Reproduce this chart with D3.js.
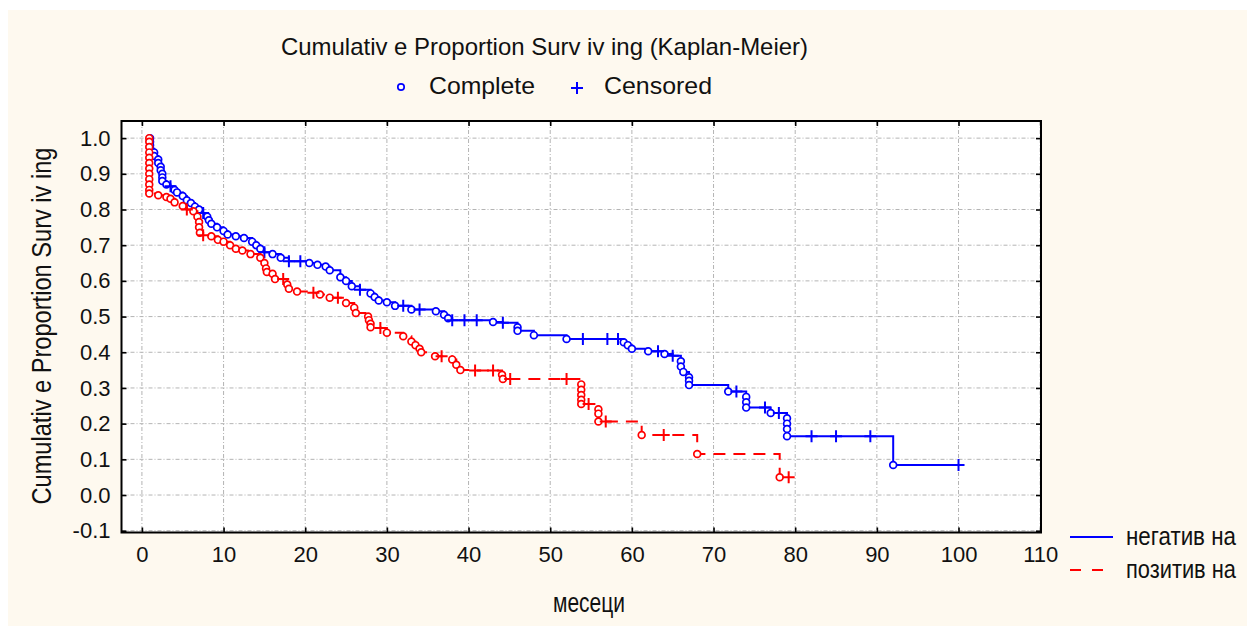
<!DOCTYPE html>
<html>
<head>
<meta charset="utf-8">
<script src="https://cdn.jsdelivr.net/npm/d3@7"></script>
<style>
  body { margin: 0; background: #fff; }
  svg { display: block; font-family: "Liberation Sans", Arial, sans-serif; }
</style>
</head>
<body>
<svg id="chart" width="1247" height="626"></svg>
<script>
// --- chart data ---
const xTicks = [0, 10, 20, 30, 40, 50, 60, 70, 80, 90, 100, 110];
const yTicks = [-0.1, 0.0, 0.1, 0.2, 0.3, 0.4, 0.5, 0.6, 0.7, 0.8, 0.9, 1.0];
const groupNames = ["негатив на", "позитив на"];
const markerLabels = ["Complete", "Censored"];

// [month, cumulative proportion surviving, censored? 1 : 0]
const negativeKM = [
  [1, 1.0, 0], [1, 0.99, 0], [1, 0.98, 0], [1, 0.97, 0], [1.5, 0.96, 0], [1.5, 0.95, 0],
  [2, 0.94, 0], [2, 0.93, 0], [2.3, 0.92, 0], [2.3, 0.91, 0], [2.5, 0.90, 0], [2.5, 0.89, 0],
  [2.5, 0.88, 0], [3, 0.87, 0], [3.5, 0.865, 1], [4, 0.855, 0], [4.3, 0.848, 0], [5, 0.838, 0],
  [5.5, 0.826, 0], [6, 0.818, 0], [6.5, 0.808, 0], [7, 0.80, 0], [7.5, 0.79, 1], [8, 0.78, 0],
  [8.2, 0.77, 0], [8.5, 0.76, 0], [9.2, 0.75, 0], [10, 0.74, 0], [10.5, 0.73, 0], [11.5, 0.725, 0],
  [12.5, 0.72, 0], [13.5, 0.71, 0], [14, 0.70, 0], [14.5, 0.69, 0], [15, 0.68, 1], [16, 0.675, 0],
  [17, 0.665, 0], [18, 0.655, 1], [19.4, 0.655, 1], [20.5, 0.65, 0], [21.5, 0.645, 0], [22.5, 0.64, 0],
  [23, 0.63, 0], [24.3, 0.61, 0], [25, 0.60, 0], [25.7, 0.585, 0], [26.7, 0.575, 1], [28, 0.565, 0],
  [28.5, 0.555, 0], [29, 0.545, 0], [30, 0.54, 0], [31, 0.53, 0], [32, 0.53, 1], [33, 0.52, 0],
  [34, 0.52, 1], [36, 0.515, 0], [37, 0.505, 0], [37.5, 0.495, 0], [38, 0.49, 1], [39.5, 0.49, 1],
  [41, 0.49, 1], [43, 0.485, 0], [44.2, 0.483, 1], [46, 0.47, 0], [46, 0.46, 0], [48, 0.448, 0],
  [52, 0.437, 0], [54, 0.437, 1], [57, 0.437, 1], [58.3, 0.437, 1], [59, 0.428, 0], [59.5, 0.42, 0],
  [60, 0.41, 0], [62, 0.403, 0], [63.2, 0.403, 1], [64, 0.395, 0], [65, 0.39, 1], [66, 0.375, 0],
  [66, 0.36, 0], [66.3, 0.345, 0], [67, 0.33, 0], [67, 0.32, 0], [67, 0.308, 0], [71.8, 0.29, 0],
  [72.8, 0.29, 1], [74, 0.275, 0], [74, 0.26, 0], [74, 0.245, 0], [76.3, 0.245, 1], [77, 0.23, 0],
  [78, 0.23, 1], [79, 0.215, 0], [79, 0.20, 0], [79, 0.185, 0], [79, 0.165, 0], [82, 0.165, 1],
  [85, 0.165, 1], [89.2, 0.165, 1], [92, 0.084, 0], [100, 0.084, 1]
];

const positiveKM = [
  [0.9, 1.0, 0], [0.9, 0.99, 0], [0.9, 0.975, 0], [0.9, 0.96, 0], [0.9, 0.945, 0], [0.9, 0.93, 0],
  [0.9, 0.915, 0], [0.9, 0.90, 0], [0.9, 0.885, 0], [0.9, 0.87, 0], [0.9, 0.855, 0], [0.9, 0.845, 0],
  [2, 0.84, 0], [3, 0.835, 0], [3.5, 0.83, 0], [4, 0.82, 0], [5, 0.81, 0], [5.5, 0.80, 1],
  [6.3, 0.795, 0], [6.8, 0.78, 0], [7, 0.765, 0], [7, 0.75, 0], [7.1, 0.735, 0], [7.5, 0.728, 1],
  [8.5, 0.725, 0], [9.3, 0.715, 0], [10, 0.71, 0], [10.8, 0.70, 0], [11.5, 0.69, 0], [12.3, 0.685, 0],
  [13.3, 0.675, 0], [14.5, 0.665, 0], [15, 0.65, 0], [15.2, 0.635, 0], [15.3, 0.625, 0], [16, 0.62, 0],
  [16.3, 0.605, 0], [17.3, 0.605, 1], [17.8, 0.59, 0], [18, 0.578, 0], [19, 0.57, 0], [21, 0.567, 1],
  [21.8, 0.562, 0], [23, 0.553, 0], [24, 0.553, 1], [25, 0.538, 0], [26, 0.525, 0], [26.2, 0.51, 0],
  [27.7, 0.50, 0], [27.8, 0.49, 0], [28, 0.48, 0], [28, 0.47, 0], [29.2, 0.468, 1], [30, 0.455, 0],
  [32, 0.445, 0], [33, 0.43, 0], [33.5, 0.42, 0], [34, 0.41, 0], [34.2, 0.40, 0], [35.9, 0.389, 0],
  [36.7, 0.389, 1], [38, 0.38, 0], [38.5, 0.365, 0], [39, 0.35, 0], [40.8, 0.349, 1], [43, 0.349, 1],
  [44.1, 0.337, 0], [44.2, 0.325, 0], [45.1, 0.325, 1], [52, 0.325, 1], [53.8, 0.31, 0], [53.8, 0.295, 0],
  [53.8, 0.28, 0], [53.8, 0.267, 0], [53.8, 0.255, 0], [54.7, 0.255, 1], [55.9, 0.24, 0], [55.9, 0.228, 0],
  [55.9, 0.206, 0], [56.8, 0.206, 1], [61.2, 0.168, 0], [63.9, 0.168, 1], [68, 0.115, 0], [78.1, 0.05, 0],
  [79.2, 0.05, 1]
];

// --- layout ---
const svg = d3.select("#chart");
const plot = { left: 121.5, top: 121, right: 1041, bottom: 532.5 };

const x = d3.scaleLinear().domain([-2.5, 110.1]).range([plot.left, plot.right]);
const y = d3.scaleLinear().domain([-0.105, 1.048]).range([plot.bottom, plot.top]);

// cream backdrop + white plot area
svg.append("rect").attr("x", 8).attr("y", 10).attr("width", 1239).attr("height", 616).attr("fill", "#fef9ef");
svg.append("rect")
  .attr("x", plot.left).attr("y", plot.top)
  .attr("width", plot.right - plot.left).attr("height", plot.bottom - plot.top)
  .attr("fill", "#fff");

// grid (dash-dot grey)
const grid = svg.append("g").attr("stroke", "#b4b4b4").attr("stroke-width", 1).attr("stroke-dasharray", "4,2,1,2");
grid.selectAll("line.gx").data(xTicks).enter().append("line")
  .attr("x1", d => x(d)).attr("x2", d => x(d)).attr("y1", plot.top).attr("y2", plot.bottom);
grid.selectAll("line.gy").data(yTicks).enter().append("line")
  .attr("y1", d => y(d)).attr("y2", d => y(d)).attr("x1", plot.left).attr("x2", plot.right);

// axes (inward ticks on all four sides)
const fmt = d => d.toFixed(1);
svg.append("g").attr("transform", `translate(${plot.left},0)`)
  .call(d3.axisLeft(y).tickValues(yTicks).tickSize(-5).tickPadding(11).tickFormat(fmt));
svg.append("g").attr("transform", `translate(0,${plot.bottom})`)
  .call(d3.axisBottom(x).tickValues(xTicks).tickSize(-5).tickPadding(14));
svg.append("g").attr("transform", `translate(${plot.right},0)`)
  .call(d3.axisRight(y).tickValues(yTicks).tickSize(-5).tickFormat(""));
svg.append("g").attr("transform", `translate(0,${plot.top})`)
  .call(d3.axisTop(x).tickValues(xTicks).tickSize(-5).tickFormat(""));

svg.selectAll(".domain").remove();
svg.selectAll(".tick line").attr("stroke", "#000").attr("stroke-width", 1.6);
svg.selectAll(".tick text").attr("fill", "#111").style("font-size", "22px");

// plot frame
svg.append("rect")
  .attr("x", plot.left).attr("y", plot.top)
  .attr("width", plot.right - plot.left).attr("height", plot.bottom - plot.top)
  .attr("fill", "none").attr("stroke", "#000").attr("stroke-width", 2);

// --- KM curves ---
const stepLine = d3.line().x(d => x(d[0])).y(d => y(d[1])).curve(d3.curveStepAfter);

function drawGroup(data, color, dash) {
  const g = svg.append("g");
  g.append("path")
    .attr("d", stepLine(data))
    .attr("fill", "none")
    .attr("stroke", color)
    .attr("stroke-width", 2)
    .attr("stroke-dasharray", dash);

  // complete observations: small open circles
  g.selectAll("circle")
    .data(data.filter(d => !d[2]))
    .enter().append("circle")
    .attr("cx", d => x(d[0])).attr("cy", d => y(d[1]))
    .attr("r", 3.4)
    .attr("fill", "#fff")
    .attr("stroke", color)
    .attr("stroke-width", 1.7);

  // censored observations: plus signs
  g.selectAll("path.cens")
    .data(data.filter(d => d[2]))
    .enter().append("path")
    .attr("class", "cens")
    .attr("d", d => `M${x(d[0]) - 6},${y(d[1])}h12M${x(d[0])},${y(d[1]) - 6}v12`)
    .attr("stroke", color)
    .attr("stroke-width", 2)
    .attr("fill", "none");
}

drawGroup(negativeKM, "#0000ff", null);
drawGroup(positiveKM, "#ff0000", "12,8");

// --- titles ---
svg.append("text")
  .attr("x", 281).attr("y", 55)
  .attr("textLength", 527).attr("lengthAdjust", "spacingAndGlyphs")
  .style("font-size", "24px").attr("fill", "#111")
  .text("Cumulativ e Proportion Surv iv ing (Kaplan-Meier)");

// marker legend
svg.append("circle").attr("cx", 401).attr("cy", 87).attr("r", 3.2)
  .attr("fill", "#fff").attr("stroke", "#0000ff").attr("stroke-width", 1.7);
svg.append("text").attr("x", 429).attr("y", 94)
  .attr("textLength", 106).attr("lengthAdjust", "spacingAndGlyphs")
  .style("font-size", "24px").attr("fill", "#111").text(markerLabels[0]);
svg.append("path").attr("d", "M571,88h12M577,82v12")
  .attr("stroke", "#0000ff").attr("stroke-width", 2);
svg.append("text").attr("x", 604).attr("y", 94)
  .attr("textLength", 108).attr("lengthAdjust", "spacingAndGlyphs")
  .style("font-size", "24px").attr("fill", "#111").text(markerLabels[1]);

// y axis title
svg.append("text")
  .attr("transform", "translate(51,326) rotate(-90)")
  .attr("text-anchor", "middle")
  .attr("textLength", 357).attr("lengthAdjust", "spacingAndGlyphs")
  .style("font-size", "27px").attr("fill", "#111")
  .text("Cumulativ e Proportion Surv iv ing");

// x axis title
svg.append("text")
  .attr("x", 553).attr("y", 612)
  .attr("textLength", 72).attr("lengthAdjust", "spacingAndGlyphs")
  .style("font-size", "27px").attr("fill", "#111")
  .text("месеци");

// group legend (bottom right)
const legendRows = [
  { name: groupNames[0], color: "#0000ff", dash: null, y: 537 },
  { name: groupNames[1], color: "#ff0000", dash: "11,11", y: 570 }
];
const leg = svg.append("g");
leg.selectAll("line").data(legendRows).enter().append("line")
  .attr("x1", 1070).attr("x2", d => d.dash ? 1103 : 1113)
  .attr("y1", d => d.y).attr("y2", d => d.y)
  .attr("stroke", d => d.color).attr("stroke-width", 2)
  .attr("stroke-dasharray", d => d.dash);
leg.selectAll("text").data(legendRows).enter().append("text")
  .attr("transform", d => `translate(1126,${d.y + 8}) scale(1,1.22)`)
  .attr("textLength", 110).attr("lengthAdjust", "spacingAndGlyphs")
  .style("font-size", "21px").attr("fill", "#111")
  .text(d => d.name);
</script>
</body>
</html>
